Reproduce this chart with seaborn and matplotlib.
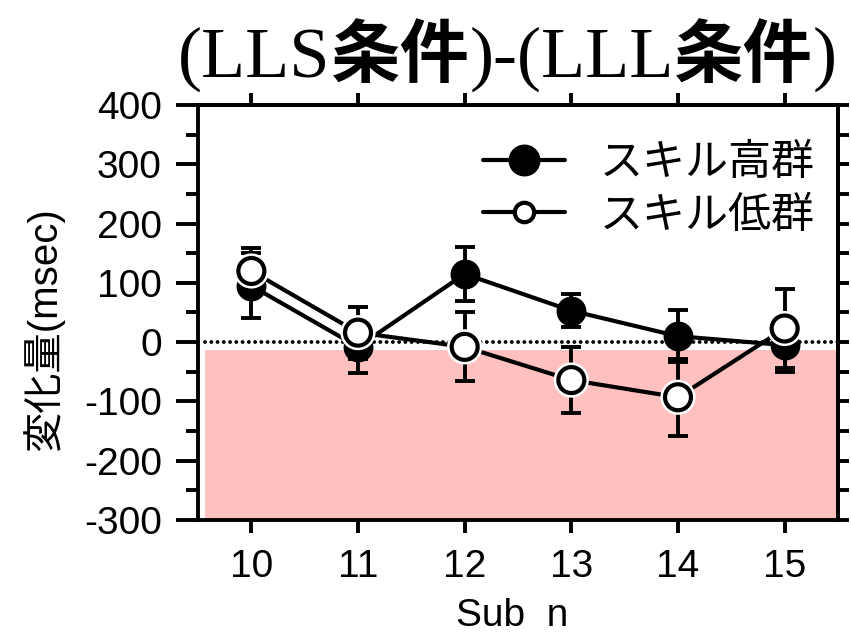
import matplotlib
matplotlib.use("Agg")
import matplotlib.pyplot as plt
import matplotlib.patheffects as pe
from matplotlib.lines import Line2D
from matplotlib.ticker import MultipleLocator, FixedLocator, NullFormatter
import seaborn as sns

# ---- data -------------------------------------------------------------
subjects = [10, 11, 12, 13, 14, 15]
high_mean = [95, -8, 115, 53, 10, -5]
high_err = [55, 44, 46, 28, 44, 45]
low_mean = [120, 16, -8, -64, -93, 23]
low_err = [38, 44, 58, 56, 65, 67]
group_labels = ["スキル高群", "スキル低群"]
y_ticks = [-300, -200, -100, 0, 100, 200, 300, 400]
y_ticklabels = ["-300", "-200", "-100", "0", "100", "200", "300", "400"]
shade_top = -14
title_parts = ["(LLS", "条件", ")-(LLL", "条件", ")"]
y_label = "変化量(msec)"
x_label = "Sub  n"

sns.set_style("ticks")
SANS = ["Liberation Sans", "Noto Sans CJK JP"]
plt.rcParams["font.family"] = SANS
plt.rcParams["axes.unicode_minus"] = False
for key in ("text.color", "axes.labelcolor", "xtick.color", "ytick.color",
            "axes.edgecolor"):
    plt.rcParams[key] = "black"

fig = plt.figure(figsize=(8.51, 6.41), dpi=100)
ax = fig.add_axes([0.2327, 0.1888, 0.752, 0.6474])
ax.set_xlim(9.5, 15.5)
ax.set_ylim(-300, 400)

# shaded negative region and dotted zero line
ax.fill_between([9.57, 15.5], -300, shade_top, color="#ffc0c0", lw=0, zorder=0)
ax.plot([9.57, 15.5], [0, 0], color="k", lw=2.8, linestyle=(0, (0.01, 1.6)),
        dash_capstyle="round", zorder=1)

lw = 3.0
elw = 2.8
ms_area = 350
spw = 2.8
# high-skill group: filled markers
ax.errorbar(subjects, high_mean, yerr=high_err, fmt="none", ecolor="k",
            elinewidth=elw, capsize=7.5, capthick=elw, zorder=2)
sns.lineplot(x=subjects, y=high_mean, color="k", linewidth=lw, ax=ax, zorder=3)
sns.scatterplot(x=subjects, y=high_mean, marker="o", s=ms_area, color="k",
                edgecolor="k", linewidth=2.8, ax=ax, zorder=4)

# low-skill group: open markers with a white halo
ax.errorbar(subjects, low_mean, yerr=low_err, fmt="none", ecolor="k",
            elinewidth=elw, capsize=7.5, capthick=elw, zorder=5)
sns.lineplot(x=subjects, y=low_mean, color="k", linewidth=lw, ax=ax, zorder=6)
sns.scatterplot(x=subjects, y=low_mean, marker="o", s=ms_area, color="white",
                edgecolor="k", linewidth=3.0, ax=ax, zorder=7)
ax.collections[-1].set_path_effects([pe.Stroke(linewidth=6.6, foreground="white"),
                                     pe.Normal()])

# axes styling
for sp in ax.spines.values():
    sp.set_linewidth(spw)
    sp.set_color("k")
ax.set_xticks(subjects)
ax.set_xticklabels([str(s) for s in subjects])
ax.set_yticks(y_ticks)
ax.set_yticklabels(y_ticklabels)
ax.yaxis.set_minor_locator(MultipleLocator(50))
ax.tick_params(axis="y", which="major", length=16, width=spw, direction="out",
               pad=10, labelsize=28, left=True, right=False)
ax.tick_params(axis="y", which="minor", length=9, width=spw, direction="out",
               left=True, right=False)
ax.tick_params(axis="x", which="major", length=9, width=spw, direction="out",
               pad=12, labelsize=28, top=False)
ax.set_xlabel("")
ax.set_ylabel("")

secy = ax.secondary_yaxis("right")
secy.yaxis.set_major_locator(MultipleLocator(100))
secy.yaxis.set_minor_locator(MultipleLocator(50))
secy.yaxis.set_major_formatter(NullFormatter())
secy.tick_params(which="both", length=8, width=spw, direction="out")
secy.spines["right"].set_linewidth(spw)

secx = ax.secondary_xaxis("top")
secx.xaxis.set_major_locator(FixedLocator(subjects))
secx.xaxis.set_major_formatter(NullFormatter())
secx.tick_params(which="both", length=9, width=spw, direction="out")
secx.spines["top"].set_linewidth(spw)

# legend
handles = [
    Line2D([], [], color="k", lw=lw, marker="o", ms=22, mfc="k", mec="k"),
    Line2D([], [], color="k", lw=lw, marker="o", ms=14, mfc="white", mec="k", mew=3.0),
]
ax.legend(handles, group_labels, loc="upper right", bbox_to_anchor=(0.99, 0.955),
          frameon=False, prop={"family": ["Noto Sans CJK JP"], "size": 31},
          handlelength=1.9, handletextpad=0.8, labelspacing=0.2, borderaxespad=0)

# axis labels
fig.text(43 / 851, 1 - 329 / 641, y_label, rotation=90, ha="center", va="center",
         fontsize=29, family=SANS)
fig.text(512 / 851, 1 - 616 / 641, x_label, ha="center", va="center",
         fontsize=28, family=["Liberation Sans Narrow", "Liberation Sans"])

# title: serif Latin pieces, bold gothic kanji pieces
fig.canvas.draw()
renderer = fig.canvas.get_renderer()
x = 178 / 851
y = 1 - 77 / 641
for part in title_parts:
    if part.isascii():
        style = dict(family=["Liberation Serif"], fontsize=52)
    else:
        style = dict(family=["Noto Sans CJK JP"], fontsize=50, weight="bold")
    t = fig.text(x, y, part, ha="left", va="baseline", **style)
    x += t.get_window_extent(renderer=renderer).width / fig.bbox.width

fig.savefig("out.png", dpi=100)
